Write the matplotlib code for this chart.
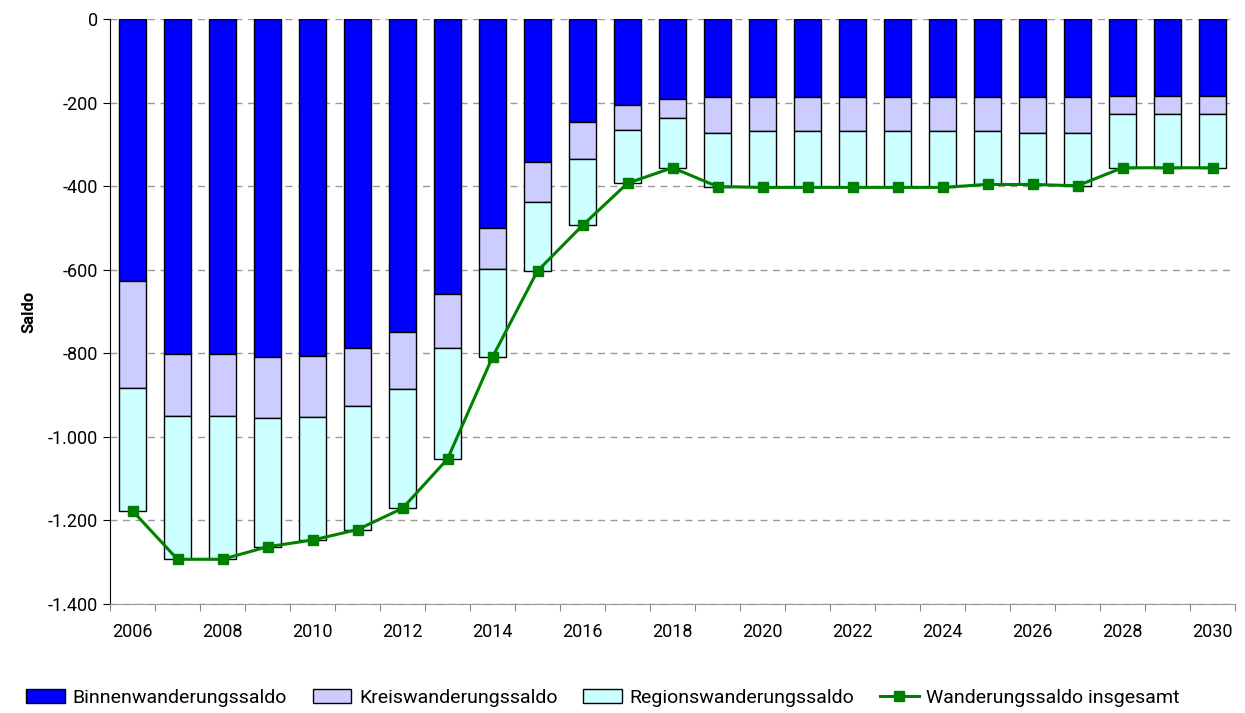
import numpy as np
import matplotlib.pyplot as plt
from matplotlib.ticker import FuncFormatter, FixedLocator

plt.rcParams['font.family'] = ['Roboto', 'DejaVu Sans']

years = list(range(2006, 2031))

# Binnenwanderungssaldo
binnen = [-627, -802, -802, -810, -806, -788, -750, -659, -500, -342, -246, -206, -191,
          -187, -187, -187, -187, -187, -187, -187, -187, -187, -185, -185, -185]
# Kreiswanderungssaldo
kreis = [-256, -147, -147, -146, -147, -139, -136, -129, -99, -96, -89, -59, -47,
         -85, -81, -81, -81, -81, -81, -81, -85, -85, -42, -42, -42]
# Regionswanderungssaldo
region = [-294, -344, -344, -307, -294, -295, -285, -265, -210, -165, -159, -128, -118,
          -129, -135, -135, -135, -135, -135, -128, -124, -127, -129, -129, -129]

binnen = np.array(binnen)
kreis = np.array(kreis)
region = np.array(region)
gesamt = binnen + kreis + region

fig = plt.figure(figsize=(12.45, 7.13), dpi=100)
ax = fig.add_axes([110 / 1245, 1 - 604 / 713, 1125 / 1245, 585 / 713])

x = np.arange(len(years))
w = 0.6
b1 = ax.bar(x, binnen, w, color='#0000ff', edgecolor='black', linewidth=1,
            label='Binnenwanderungssaldo', zorder=3)
b2 = ax.bar(x, kreis, w, bottom=binnen, color='#ccccff', edgecolor='black', linewidth=1,
            label='Kreiswanderungssaldo', zorder=3)
b3 = ax.bar(x, region, w, bottom=binnen + kreis, color='#ccffff', edgecolor='black', linewidth=1,
            label='Regionswanderungssaldo', zorder=3)
l1, = ax.plot(x, gesamt, color='#008000', lw=2.2, marker='s', markersize=7,
              label='Wanderungssaldo insgesamt', zorder=4)

ax.set_xlim(-0.5, len(years) - 0.5)
ax.set_ylim(-1400, 0)
ax.set_yticks(np.arange(-1400, 1, 200))
ax.yaxis.set_major_formatter(FuncFormatter(lambda v, p: f'{int(v):,}'.replace(',', '.')))
ax.yaxis.grid(True, linestyle=(0, (5, 4)), color='#999999', linewidth=1, zorder=0)

# ticks on category boundaries, labels every second year
ax.xaxis.set_major_locator(FixedLocator(np.arange(-0.5, len(years), 1)))
ax.xaxis.set_major_formatter(FuncFormatter(lambda v, p: ''))
ax.set_xticks(x[::2], minor=True)
ax.set_xticklabels([str(y) for y in years[::2]], minor=True)
ax.tick_params(axis='x', which='minor', length=0, pad=14, labelsize=13)
ax.tick_params(axis='x', which='major', length=5, color='#888888')
ax.tick_params(axis='y', length=5, labelsize=13)

for s in ['top', 'right']:
    ax.spines[s].set_visible(False)
ax.spines['bottom'].set_color('#999999')
ax.spines['left'].set_color('black')

ax.set_ylabel('Saldo', fontsize=12, fontweight='bold', labelpad=8)

ax.legend([b1, b2, b3, l1],
          ['Binnenwanderungssaldo', 'Kreiswanderungssaldo', 'Regionswanderungssaldo',
           'Wanderungssaldo insgesamt'],
          loc='center', bbox_to_anchor=(493 / 1125, (604 - 698) / 585), ncol=4, frameon=False,
          fontsize=14, handlelength=2.0, handleheight=0.75, columnspacing=1.3, handletextpad=0.4,
          borderpad=0)

fig.savefig('out.png', dpi=100)
